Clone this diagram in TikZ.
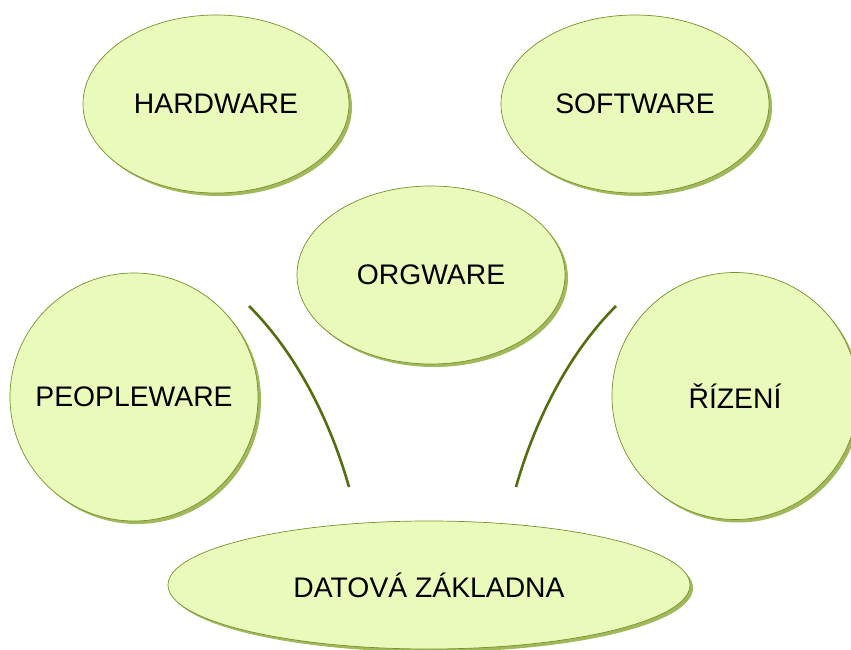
\documentclass[tikz,border=0pt]{standalone}
\usepackage{fontspec}
\setmainfont{Liberation Sans}
\usetikzlibrary{shapes.geometric,shadows}
\definecolor{blobfill}{RGB}{234,250,186}
\definecolor{blobedge}{RGB}{120,145,45}
\definecolor{blobshadow}{RGB}{160,185,90}
\definecolor{arcc}{RGB}{85,110,15}
\newcommand{\blobtext}[1]{\makebox[0pt][c]{#1}}
\begin{document}
\begin{tikzpicture}[x=1pt,y=-1pt,
  blob/.style={ellipse, draw=blobedge, line width=0.7pt, fill=blobfill, inner sep=0pt,
    font=\fontsize{28.3}{34}\selectfont,
    drop shadow={shadow xshift=3pt, shadow yshift=-3pt, fill=blobshadow, opacity=1}},
  arcline/.style={draw=arcc, line width=2.6pt}]
\useasboundingbox[fill=white] (0,0) rectangle (851,650);
\node[blob, minimum width=266pt, minimum height=178pt] (hw) at (216,104) {\blobtext{HARDWARE}};
\node[blob, minimum width=268pt, minimum height=178pt] (sw) at (635,104) {\blobtext{SOFTWARE}};
\node[blob, minimum width=268pt, minimum height=178pt] (ow) at (431,275) {\blobtext{ORGWARE}};
\node[blob, minimum width=248pt, minimum height=248pt] (pw) at (134,397) {\blobtext{PEOPLEWARE}};
\node[blob, minimum width=246pt, minimum height=247pt] (rz) at (735,396) {\blobtext{ŘÍZENÍ}};
\node[blob, minimum width=522pt, minimum height=128pt] (dz) at (429,585) {\blobtext{DATOVÁ ZÁKLADNA}};
\coordinate (la) at (249,306);
\coordinate (lb) at (349,487);
\coordinate (ra) at (616,306);
\coordinate (rb) at (516,487);
\draw[arcline] (la) .. controls (300,357) and (332,427) .. (lb);
\draw[arcline] (ra) .. controls (565,357) and (533,427) .. (rb);
\end{tikzpicture}
\end{document}
